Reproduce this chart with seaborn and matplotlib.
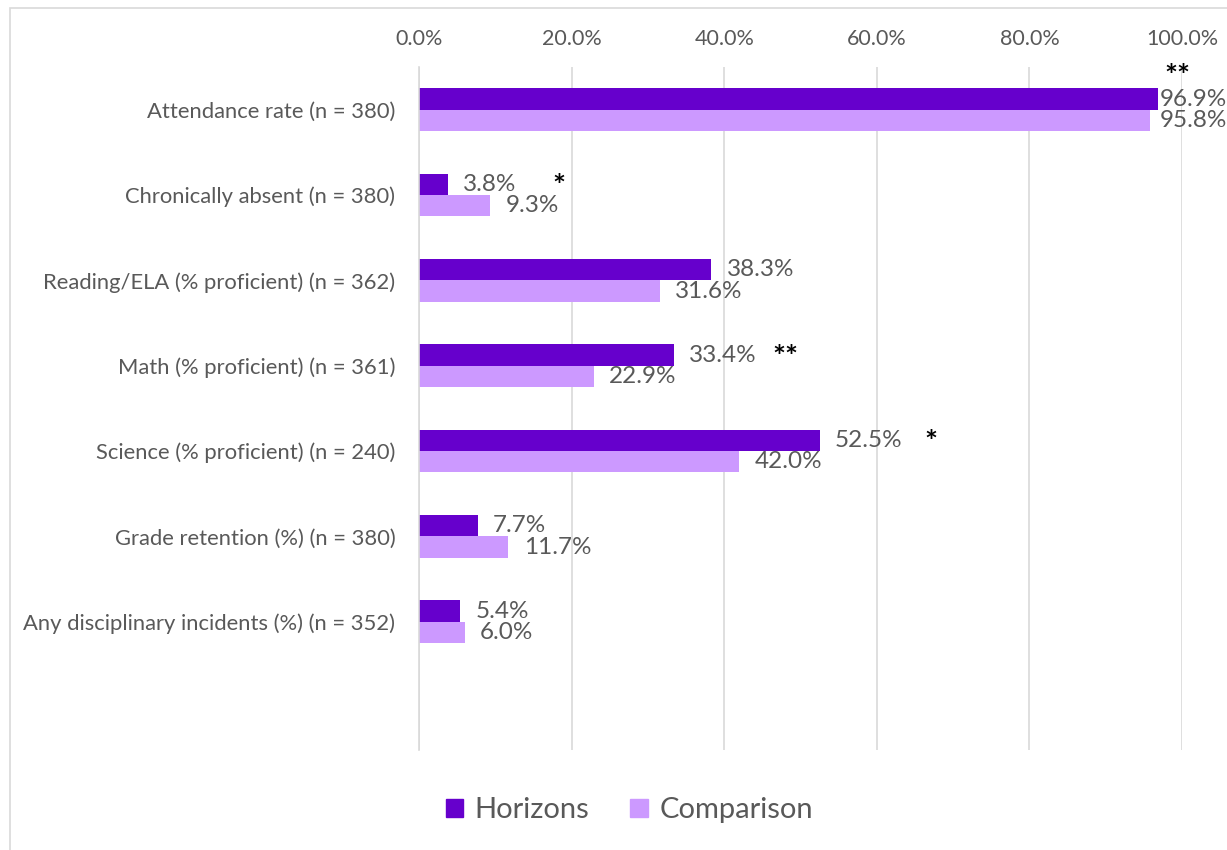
import pandas as pd
import matplotlib.pyplot as plt
import seaborn as sns
from matplotlib.patches import Rectangle

# Outcome data (percent)
categories = ['Attendance rate (n = 380)',
              'Chronically absent (n = 380)',
              'Reading/ELA (% proficient) (n = 362)',
              'Math (% proficient) (n = 361)',
              'Science (% proficient) (n = 240)',
              'Grade retention (%) (n = 380)',
              'Any disciplinary incidents (%) (n = 352)']
horizons = [96.9, 3.8, 38.3, 33.4, 52.5, 7.7, 5.4]
comparison = [95.8, 9.3, 31.6, 22.9, 42.0, 11.7, 6.0]
significance = ['**', '*', '', '**', '*', '', '']
groups = ['Horizons', 'Comparison']
colors = ['#6600CC', '#CC99FF']

df = pd.DataFrame({
    'Outcome': categories * 2,
    'Group': [groups[0]] * len(categories) + [groups[1]] * len(categories),
    'Value': horizons + comparison,
})

sns.set_style('white')
plt.rcParams['font.family'] = ['Lato', 'DejaVu Sans']
label_gray = '#595959'

fig = plt.figure(figsize=(12.27, 8.5), dpi=100)
ax = fig.add_axes([0.3415, 0.118, 0.6218, 0.803])

sns.barplot(data=df, y='Outcome', x='Value', hue='Group', hue_order=groups,
            palette=colors, orient='h', width=0.5, linewidth=0, saturation=1,
            legend=False, ax=ax)

ax.set_xlim(0, 100)
ax.set_ylim(7.5, -0.5)  # leave one empty slot at the bottom like the original
ax.set_xticks(range(0, 101, 20))
ax.set_xticklabels([f'{t:.1f}%' for t in range(0, 101, 20)])
ax.xaxis.tick_top()
ax.tick_params(axis='x', length=0, labelsize=15.5, colors=label_gray, pad=13)
ax.tick_params(axis='y', length=0, labelsize=15.8, colors=label_gray, pad=17)
ax.grid(axis='x', color='#d9d9d9', linewidth=1.2)
ax.set_axisbelow(True)
for side in ['top', 'right', 'bottom']:
    ax.spines[side].set_visible(False)
ax.spines['left'].set_color('#d9d9d9')
ax.spines['left'].set_linewidth(1.2)
ax.set_xlabel('')
ax.set_ylabel('')

# value labels
for cont in ax.containers:
    for bar in cont:
        v = bar.get_width()
        yc = bar.get_y() + bar.get_height() / 2
        if v > 90:
            # no room on the right: Excel squeezes these against the bar end
            ax.annotate(f'{v:.1f}%', (97.1, yc), xytext=(0, 0), textcoords='offset points',
                        va='center', ha='left', fontsize=17.5, color=label_gray)
        else:
            ax.annotate(f'{v:.1f}%', (v, yc), xytext=(11, 0), textcoords='offset points',
                        va='center', ha='left', fontsize=17.5, color=label_gray)

# significance stars
for i, (v, s) in enumerate(zip(horizons, significance)):
    if not s:
        continue
    if v > 90:
        ax.annotate(s, (100, i - 0.125), xytext=(-3, 16), textcoords='offset points',
                    va='center', ha='center', fontsize=22, fontweight='bold', color='black')
    else:
        ax.annotate(s, (v, i - 0.125), xytext=(80, -2), textcoords='offset points',
                    va='center', ha='center', fontsize=22, fontweight='bold', color='black')

handles = [Rectangle((0, 0), 1, 1, color=c) for c in colors]
leg = fig.legend(handles, groups, loc='center', bbox_to_anchor=(0.513, 0.047), ncol=2,
                 frameon=False, fontsize=21, handlelength=0.6, handleheight=0.6,
                 handletextpad=0.4, columnspacing=1.4)
for t in leg.get_texts():
    t.set_color(label_gray)

# chart border
fig.patches.append(Rectangle((10 / 1227, -0.01), 1.0, 1 - 8 / 850 + 0.01,
                             transform=fig.transFigure, fill=False,
                             edgecolor='#d9d9d9', linewidth=1.2))

fig.savefig('out.png', dpi=100)
